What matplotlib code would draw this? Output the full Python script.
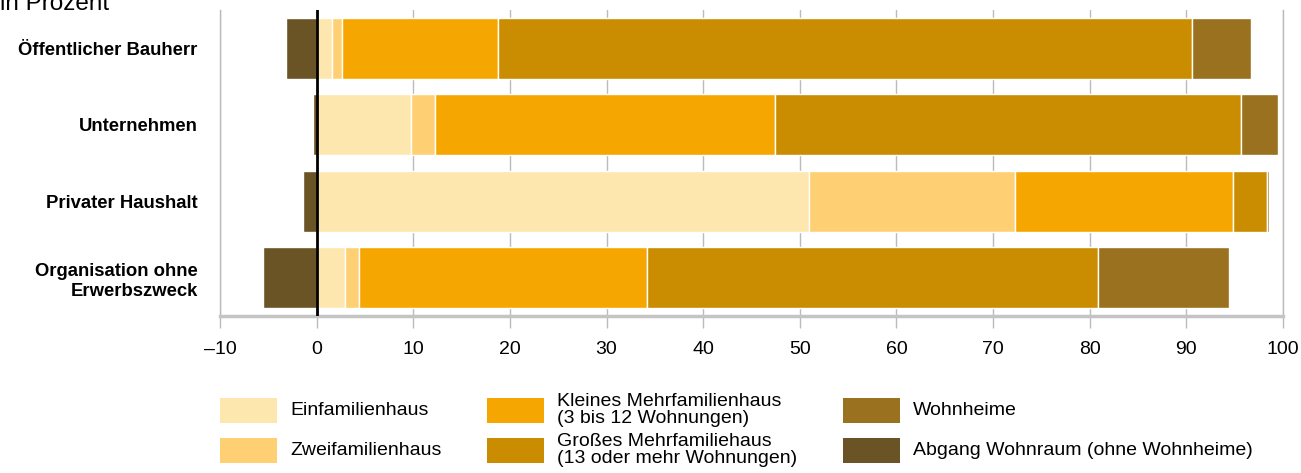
import matplotlib
matplotlib.use("Agg")
import matplotlib.pyplot as plt
import numpy as np
from matplotlib.patches import Rectangle

plt.rcParams['font.family'] = ['Liberation Sans', 'DejaVu Sans']

categories = ["Öffentlicher Bauherr", "Unternehmen", "Privater Haushalt",
              "Organisation ohne\nErwerbszweck"]
series_labels = ["Einfamilienhaus", "Zweifamilienhaus",
                 "Kleines Mehrfamilienhaus\n(3 bis 12 Wohnungen)",
                 "Großes Mehrfamiliehaus\n(13 oder mehr Wohnungen)",
                 "Wohnheime", "Abgang Wohnraum (ohne Wohnheime)"]
einfamilienhaus = [1.6, 9.8, 51.0, 2.9]
zweifamilienhaus = [1.0, 2.45, 21.3, 1.5]
kleines_mfh = [16.2, 35.15, 22.5, 29.8]
grosses_mfh = [71.8, 48.3, 3.5, 46.7]
wohnheime = [6.1, 3.8, 0.3, 13.5]
abgang = [-3.2, -0.4, -1.4, -5.5]
xticks = [-10, 0, 10, 20, 30, 40, 50, 60, 70, 80, 90, 100]
xticklabels = ["–10", "0", "10", "20", "30", "40", "50", "60", "70", "80", "90", "100"]

colors = ["#FEE7AE", "#FED073", "#F6A600", "#CA8C00", "#9A711E", "#6A5324"]

W, H = 1301, 473
fig = plt.figure(figsize=(W / 100, H / 100), dpi=100)
ax = fig.add_axes([220 / W, 1 - 316 / H, (1283 - 220) / W, (316 - 10) / H])

y = np.arange(len(categories))
left = np.zeros(len(categories))
pos_series = [einfamilienhaus, zweifamilienhaus, kleines_mfh, grosses_mfh, wohnheime]
for vals, col in zip(pos_series, colors[:5]):
    ax.barh(y, vals, left=left, height=0.8, color=col, edgecolor="white",
            linewidth=1, zorder=2)
    left = left + np.array(vals)
ax.barh(y, abgang, left=0, height=0.8, color=colors[5], edgecolor="white",
        linewidth=1, zorder=2)

ax.axvline(0, color="black", linewidth=2, zorder=3)

ax.set_xlim(-10, 100)
ax.set_ylim(3.5, -0.5)
ax.set_xticks(xticks)
ax.set_xticklabels(xticklabels, fontsize=14)
ax.set_yticks(y)
ax.set_yticklabels(categories, fontsize=13.3, fontweight="bold", linespacing=1.25)
ax.tick_params(axis="y", length=0, pad=16)
ax.tick_params(axis="x", length=8.6, width=1, color="#BBBBBB", pad=9.5)
ax.grid(axis="x", color="#BBBBBB", linewidth=1)
ax.set_axisbelow(True)
ax.spines["top"].set_visible(False)
for s in ["left", "right"]:
    ax.spines[s].set_color("#BBBBBB")
    ax.spines[s].set_linewidth(1)
ax.spines["bottom"].set_color("#C4C4C4")
ax.spines["bottom"].set_linewidth(2.5)

fig.text(0, 1 - 10 / H, "in Prozent", fontsize=17.5, ha="left", va="baseline")

# legend (manual layout, 3 columns x 2 rows)
col_x = [220, 487, 843]
row_y = [410, 450]
for i, (lab, col) in enumerate(zip(series_labels, colors)):
    c, r = divmod(i, 2)
    px, py = col_x[c], row_y[r]
    fig.add_artist(Rectangle((px / W, 1 - (py + 12.5) / H), 57 / W, 25 / H,
                             transform=fig.transFigure, facecolor=col,
                             edgecolor="none"))
    fig.text((px + 70) / W, 1 - py / H, lab, fontsize=14, ha="left",
             va="center", linespacing=0.98)

fig.savefig("out.png", dpi=100)
